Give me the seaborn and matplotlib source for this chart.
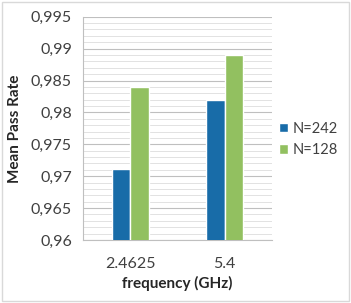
import numpy as np
import pandas as pd
import seaborn as sns
import matplotlib.pyplot as plt
from matplotlib.ticker import MultipleLocator, FuncFormatter

# data
frequencies = ["2.4625", "5.4"]
series = ["N=242", "N=128"]
pass_n242 = [0.9712, 0.982]
pass_n128 = [0.984, 0.989]

df = pd.DataFrame({
    "frequency": frequencies * 2,
    "N": [series[0]] * 2 + [series[1]] * 2,
    "rate": pass_n242 + pass_n128,
})

sns.set_style("white")
plt.rcParams["font.family"] = ["Lato", "DejaVu Sans"]

fig = plt.figure(figsize=(3.51, 3.03), dpi=100)
ax = fig.add_axes([83 / 351, 1 - 240 / 303, 189 / 351, 223.3 / 303])

sns.barplot(data=df, x="frequency", y="rate", hue="N", palette=["#0070C0", "#92D050"],
            width=0.39, gap=0, ax=ax, zorder=3)

ax.set_ylim(0.96, 0.995)
ax.yaxis.set_major_locator(MultipleLocator(0.005))
ax.yaxis.set_minor_locator(MultipleLocator(0.001))
ax.yaxis.set_major_formatter(FuncFormatter(lambda v, p: f"{v:g}".replace(".", ",")))
ax.grid(axis="y", which="major", color="#BFBFBF", lw=0.8, zorder=0)
ax.grid(axis="y", which="minor", color="#DDDDDD", lw=0.6, zorder=0)
ax.set_axisbelow(True)

for s in ["top", "right"]:
    ax.spines[s].set_visible(False)
ax.spines["left"].set_color("#BFBFBF")
ax.spines["bottom"].set_color("#BFBFBF")
ax.spines["left"].set_linewidth(0.8)
ax.spines["bottom"].set_linewidth(0.8)
ax.tick_params(axis="y", which="major", length=4, color="#BFBFBF", labelsize=11.5, labelcolor="#404040", pad=4)
ax.tick_params(axis="y", which="minor", length=0)
ax.tick_params(axis="x", length=0, labelsize=11.5, labelcolor="#404040", pad=12)

ax.set_xlabel("frequency (GHz)", fontsize=11, fontweight="bold", color="#262626", labelpad=4)
ax.set_ylabel("Mean Pass Rate", fontsize=11, fontweight="bold", color="#262626", labelpad=6)

ax.legend(title=None, loc="center left", bbox_to_anchor=(1.0, 0.45), borderaxespad=0.2,
          borderpad=0.3, frameon=False,
          fontsize=10.5, handlelength=0.6, handleheight=0.6, handletextpad=0.3,
          labelspacing=0.5, labelcolor="#404040")

fig.patches.append(plt.Rectangle((0.005, 0.005), 0.99, 0.99, transform=fig.transFigure,
                                 fill=False, edgecolor="#D9D9D9", lw=1))

fig.savefig("out.png", dpi=100)
